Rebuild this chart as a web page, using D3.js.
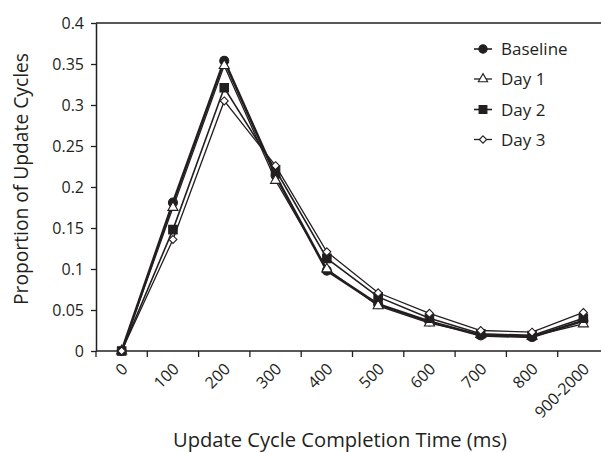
<!DOCTYPE html>
<html>
<head>
<meta charset="utf-8">
<script src="https://cdn.jsdelivr.net/npm/d3@7"></script>
<style>
  html, body { margin: 0; padding: 0; background: #fff; }
  svg { display: block; overflow: hidden; }
  text { font-family: "Open Sans", sans-serif; fill: #231f20; }
</style>
</head>
<body>
<svg id="chart" width="601" height="452"></svg>
<script>
const categories = ["0", "100", "200", "300", "400", "500", "600", "700", "800", "900-2000"];
const seriesNames = ["Baseline", "Day 1", "Day 2", "Day 3"];
const baseline = [0, 0.181, 0.354, 0.214, 0.098, 0.057, 0.036, 0.019, 0.017, 0.037];
const day1     = [0, 0.175, 0.348, 0.208, 0.100, 0.055, 0.034, 0.020, 0.018, 0.033];
const day2     = [0, 0.148, 0.321, 0.221, 0.113, 0.066, 0.040, 0.021, 0.019, 0.040];
const day3     = [0, 0.136, 0.305, 0.226, 0.121, 0.071, 0.046, 0.025, 0.023, 0.047];
const yTicks = [0, 0.05, 0.1, 0.15, 0.2, 0.25, 0.3, 0.35, 0.4];
const yTickLabels = ["0", "0.05", "0.1", "0.15", "0.2", "0.25", "0.3", "0.35", "0.4"];
const xTitle = "Update Cycle Completion Time (ms)";
const yTitle = "Proportion of Update Cycles";

const ink = "#231f20";
const svg = d3.select("#chart");

const x = d3.scaleBand().domain(categories).range([96, 96 + 51.3 * categories.length]).padding(0);
const y = d3.scaleLinear().domain([0, 0.4]).range([351, 23]);
const cx = c => x(c) + x.bandwidth() / 2;

// top border
svg.append("line")
  .attr("x1", x.range()[0]).attr("x2", x.range()[1])
  .attr("y1", y(0.4)).attr("y2", y(0.4))
  .attr("stroke", ink).attr("stroke-width", 1.5);

// Y axis
const yAxis = svg.append("g")
  .attr("transform", `translate(${x.range()[0]},0)`)
  .call(d3.axisLeft(y).tickValues(yTicks).tickFormat((d, i) => yTickLabels[i]).tickSizeInner(5).tickSizeOuter(0).tickPadding(7));
yAxis.select(".domain").attr("stroke", ink).attr("stroke-width", 1.5);
yAxis.selectAll(".tick line").attr("stroke", ink).attr("stroke-width", 1.3);
yAxis.selectAll(".tick text").attr("font-size", 16).attr("font-family", "Open Sans, sans-serif").attr("fill", ink);

// X axis line
svg.append("line")
  .attr("x1", x.range()[0]).attr("x2", x.range()[1])
  .attr("y1", y(0)).attr("y2", y(0))
  .attr("stroke", ink).attr("stroke-width", 1.5);

// x ticks at category boundaries
const boundaries = categories.map(c => x(c)).concat([x.range()[1]]);
svg.append("g").selectAll("line").data(boundaries).join("line")
  .attr("x1", d => d).attr("x2", d => d)
  .attr("y1", y(0)).attr("y2", y(0) + 6)
  .attr("stroke", ink).attr("stroke-width", 1.3);

// x tick labels
svg.append("g").selectAll("text").data(categories).join("text")
  .attr("transform", d => `translate(${cx(d) + 3},${y(0) + 15}) rotate(-45)`)
  .attr("text-anchor", "end")
  .attr("dy", "0.35em")
  .attr("font-size", 16)
  .text(d => d);

// titles
svg.append("text")
  .attr("x", 340).attr("y", 447)
  .attr("text-anchor", "middle")
  .attr("font-size", 19.5)
  .attr("textLength", 334).attr("lengthAdjust", "spacingAndGlyphs")
  .text(xTitle);

svg.append("text")
  .attr("transform", `translate(28,179) rotate(-90)`)
  .attr("text-anchor", "middle")
  .attr("font-size", 19.5)
  .attr("textLength", 252).attr("lengthAdjust", "spacingAndGlyphs")
  .text(yTitle);

// series
const diamondShape = d3.symbolDiamond2 || d3.symbolDiamond;
const seriesData = [baseline, day1, day2, day3];
const styles = [
  { width: 2.6, shape: d3.symbolCircle, size: 64, fill: ink },
  { width: 1.3, shape: d3.symbolTriangle, size: 44, fill: "#fff" },
  { width: 1.6, shape: d3.symbolSquare, size: 72, fill: ink },
  { width: 1.3, shape: diamondShape, size: 40, fill: "#fff" }
];

const line = d3.line().x((d, i) => cx(categories[i])).y(d => y(d));

seriesData.forEach((vals, si) => {
  const st = styles[si];
  const g = svg.append("g");
  g.append("path").datum(vals)
    .attr("d", line)
    .attr("fill", "none")
    .attr("stroke", ink)
    .attr("stroke-width", st.width)
    .attr("stroke-linejoin", "miter");
  g.selectAll("path.m").data(vals).join("path")
    .attr("class", "m")
    .attr("transform", (d, i) => `translate(${cx(categories[i])},${y(d)})`)
    .attr("d", d3.symbol().type(st.shape).size(st.size))
    .attr("fill", st.fill)
    .attr("stroke", ink)
    .attr("stroke-width", 1.1);
});

// legend
const legendY = [49, 79, 109.5, 139.5];
const lg = svg.append("g");
seriesNames.forEach((name, i) => {
  const st = styles[i];
  const yy = legendY[i];
  lg.append("line").attr("x1", 474).attr("x2", 492).attr("y1", yy).attr("y2", yy)
    .attr("stroke", ink).attr("stroke-width", Math.min(st.width, 1.6));
  lg.append("path")
    .attr("transform", `translate(483,${yy})`)
    .attr("d", d3.symbol().type(st.shape).size(st.size * 0.85))
    .attr("fill", st.fill).attr("stroke", ink).attr("stroke-width", 1.1);
  lg.append("text").attr("x", 501).attr("y", yy).attr("dy", "0.36em")
    .attr("font-size", 17).text(name);
});
</script>
</body>
</html>
